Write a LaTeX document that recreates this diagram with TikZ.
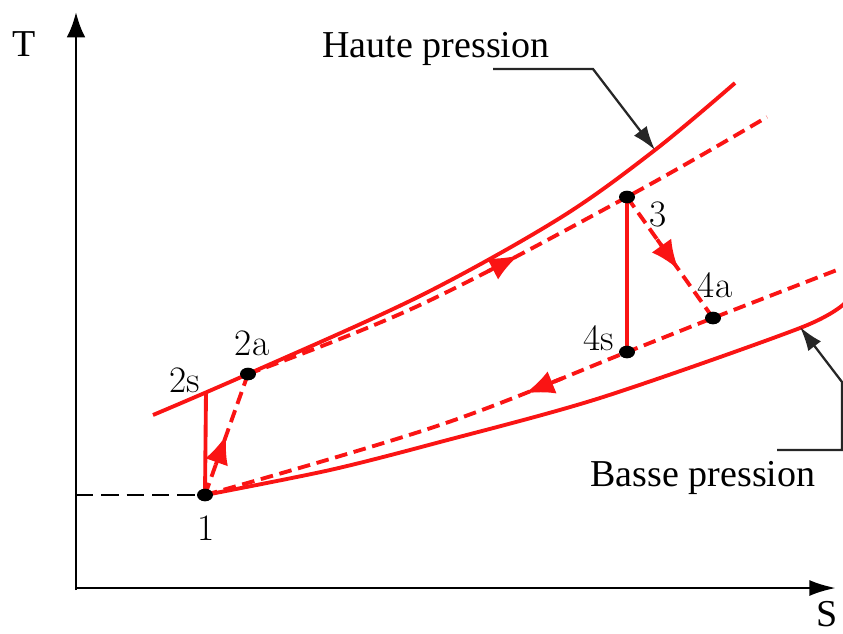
\documentclass[tikz,border=0pt]{standalone}
\usepackage{fontspec}
\newfontfamily\timesf{Liberation Serif}
\usetikzlibrary{arrows.meta,decorations.markings,shapes.geometric}
\definecolor{cred}{RGB}{250,20,20}
\tikzset{
  redline/.style={cred, line width=2.9pt},
  reddash/.style={redline, dash pattern=on 9.5pt off 5pt},
  redtip/.style={cred, line width=2.9pt, -{Latex[length=22pt,width=18pt]}},
  ptdot/.style={ellipse, fill=black, inner sep=0pt, minimum width=12pt, minimum height=9.5pt},
  lbl/.style={font=\fontsize{28}{28}\selectfont, anchor=base, inner sep=0pt},
  bigtxt/.style={font=\timesf\fontsize{28.5}{30}\selectfont, anchor=base, inner sep=0pt},
  axisline/.style={black, line width=2.1pt},
  pointer/.style={black!85, line width=1.7pt, -{Latex[length=18pt,width=12pt]}},
  markpair/.style n args={3}{postaction={decorate, decoration={markings,
      mark=at position #1 with {\coordinate (#3a);},
      mark=at position #2 with {\coordinate (#3b);}}}}
}
\begin{document}
\begin{tikzpicture}[x=0.75pt,y=-0.75pt]
\useasboundingbox (0,0) rectangle (843,633);
\clip (0,0) rectangle (843,633);
% key coordinates
\coordinate (orig) at (76,588);
\coordinate (ytip) at (76,12);
\coordinate (xtip) at (836,588);
\coordinate (yref) at (76,495);
\coordinate (p1) at (205,495);
\coordinate (p2s) at (206,392);
\coordinate (p2a) at (248,374);
\coordinate (p3) at (627,197);
\coordinate (p4s) at (627,352);
\coordinate (p4a) at (713,318);
\coordinate (hpTip) at (655,150);
\coordinate (lpTip) at (800,327);
\coordinate (hpA) at (493,69);
\coordinate (hpB) at (593,69);
\coordinate (lpA) at (777,450);
\coordinate (lpB) at (842,450);
\coordinate (lpC) at (842,382);
% axes
\draw[axisline, -{Latex[length=19pt,width=14pt]}] (76,590) -- (ytip);
\draw[axisline, -{Latex[length=20pt,width=12pt]}] (orig) -- (xtip);
\draw[black, line width=1.6pt, dash pattern=on 13pt off 6pt] (yref) -- (p1);
% high pressure isobar (solid)
\draw[redline] plot[smooth, tension=0.55] coordinates {(153,415) (248,374) (420,296) (560,218) (655,150) (735,83)};
% high pressure real (dashed)
\draw[reddash, markpair={0.45}{0.51}{hpm}] plot[smooth, tension=0.6] coordinates {(248,374) (420,305) (627,197) (767,117)};
% low pressure isobar (solid)
\draw[redline] plot[smooth, tension=0.5] coordinates {(205,495) (330,470) (440,442) (600,398) (800,328) (845,303)};
% low pressure real (dashed)
\draw[reddash, markpair={0.56}{0.5}{lpm}] plot[smooth, tension=0.6] coordinates {(205,495) (440,425) (627,352) (713,318) (837,270)};
% compressions / expansions
\draw[redline] (p1) -- (p2s);
\draw[reddash, markpair={0.25}{0.5}{cm}] (p1) -- (p2a);
\draw[redline] (p3) -- (p4s);
\draw[reddash, markpair={0.35}{0.6}{em}] (p3) -- (p4a);
% mid-path arrow heads
\draw[redtip] (hpma) -- (hpmb);
\draw[redtip] (lpma) -- (lpmb);
\draw[redtip] (cma) -- (cmb);
\draw[redtip] (ema) -- (emb);
% pointers
\draw[pointer] (hpA) -- (hpB) -- (hpTip);
\draw[pointer] (lpA) -- (lpB) -- (lpC) -- (lpTip);
% dots
\node[ptdot] (d1) at (p1) {};
\node[ptdot] (d2a) at (p2a) {};
\node[ptdot] (d3) at (p3) {};
\node[ptdot] (d4s) at (p4s) {};
\node[ptdot] (d4a) at (p4a) {};
% labels
\node[bigtxt] (tT) at (24,56) {T};
\node[bigtxt] (tS) at (827,626) {S};
\node[bigtxt] (tHP) at (436,57) {Haute pression};
\node[bigtxt] (tBP) at (703,486) {Basse pression};
\node[lbl] (l1) at (206,540) {1};
\node[lbl] (l2s) at (185,392) {2s};
\node[lbl] (l2a) at (252,355) {2a};
\node[lbl] (l3) at (658,226) {3};
\node[lbl] (l4a) at (715,297) {4a};
\node[lbl] (l4s) at (599,350) {4s};
\end{tikzpicture}
\end{document}
